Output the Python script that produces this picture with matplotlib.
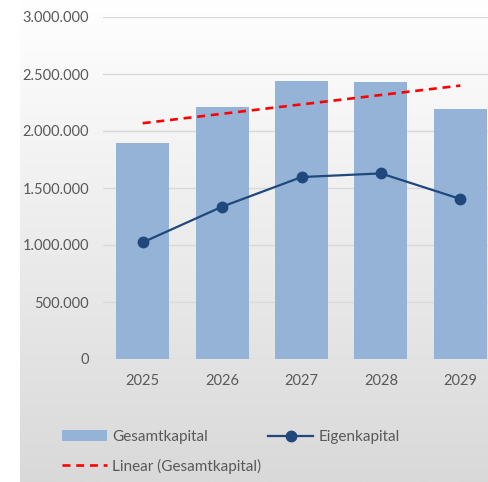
import numpy as np
import matplotlib
matplotlib.use("Agg")
import matplotlib.pyplot as plt
from matplotlib.ticker import FuncFormatter

years = ["2025", "2026", "2027", "2028", "2029"]
gesamtkapital = [1892000, 2210000, 2439000, 2433000, 2193000]
eigenkapital = [1023000, 1336000, 1596000, 1628000, 1404000]

W, H = 489, 482
fig = plt.figure(figsize=(W / 100, H / 100), dpi=100)
plt.rcParams['font.family'] = ['Lato', 'DejaVu Sans']
txt = '#595959'

# gradient background
bg = fig.add_axes([20 / W, 0, 1 - 20 / W, 1], zorder=0)
grad = np.linspace(0, 1, 256).reshape(-1, 1)
top = np.array([1.0, 1.0, 1.0])
bot = np.array([0xd9, 0xd9, 0xd9]) / 255
img = top[None, None, :] * (1 - grad[:, :, None]) + bot[None, None, :] * grad[:, :, None]
bg.imshow(img, aspect='auto', extent=[0, 1, 0, 1], origin='upper')
bg.set_axis_off()

left, right, top_px, bot_px = 103, 500, 17, 359
ax = fig.add_axes([left / W, 1 - bot_px / H, (right - left) / W, (bot_px - top_px) / H], zorder=1)
ax.set_facecolor('none')

x = np.arange(len(years))
bars = ax.bar(x, gesamtkapital, width=0.67, color='#95b3d7', label='Gesamtkapital', zorder=2)
coef = np.polyfit(x, gesamtkapital, 1)
trend, = ax.plot(x, np.polyval(coef, x), color='#ff0000', lw=1.9, ls=(0, (3, 2.2)),
                 label='Linear (Gesamtkapital)', zorder=4)
line, = ax.plot(x, eigenkapital, color='#1f497d', lw=1.6, marker='o', ms=7.5,
                label='Eigenkapital', zorder=3)

ax.set_xlim(-0.5, 4.5)
ax.set_ylim(0, 3000000)
ax.set_yticks(np.arange(0, 3000001, 500000))
ax.yaxis.set_major_formatter(FuncFormatter(lambda v, p: f"{int(v):,}".replace(',', '.')))
ax.set_xticks(x)
ax.set_xticklabels(years)
ax.grid(axis='y', color='#d9d9d9', lw=1, zorder=0)
ax.set_axisbelow(True)
for s in ax.spines.values():
    s.set_visible(False)
ax.tick_params(length=0, colors=txt, labelsize=10.5)
ax.tick_params(axis='y', pad=10)
ax.tick_params(axis='x', pad=10.5)

leg = fig.legend([bars, trend, line], ['Gesamtkapital', 'Linear (Gesamtkapital)', 'Eigenkapital'],
                 ncol=2, loc='upper left', bbox_to_anchor=(62 / W, 1 - 430 / H),
                 frameon=False, fontsize=11, handlelength=2.95, handletextpad=0.35,
                 columnspacing=0.45, labelspacing=0.95, borderpad=0, borderaxespad=0,
                 labelcolor=txt)

fig.savefig('out.png', dpi=100)
